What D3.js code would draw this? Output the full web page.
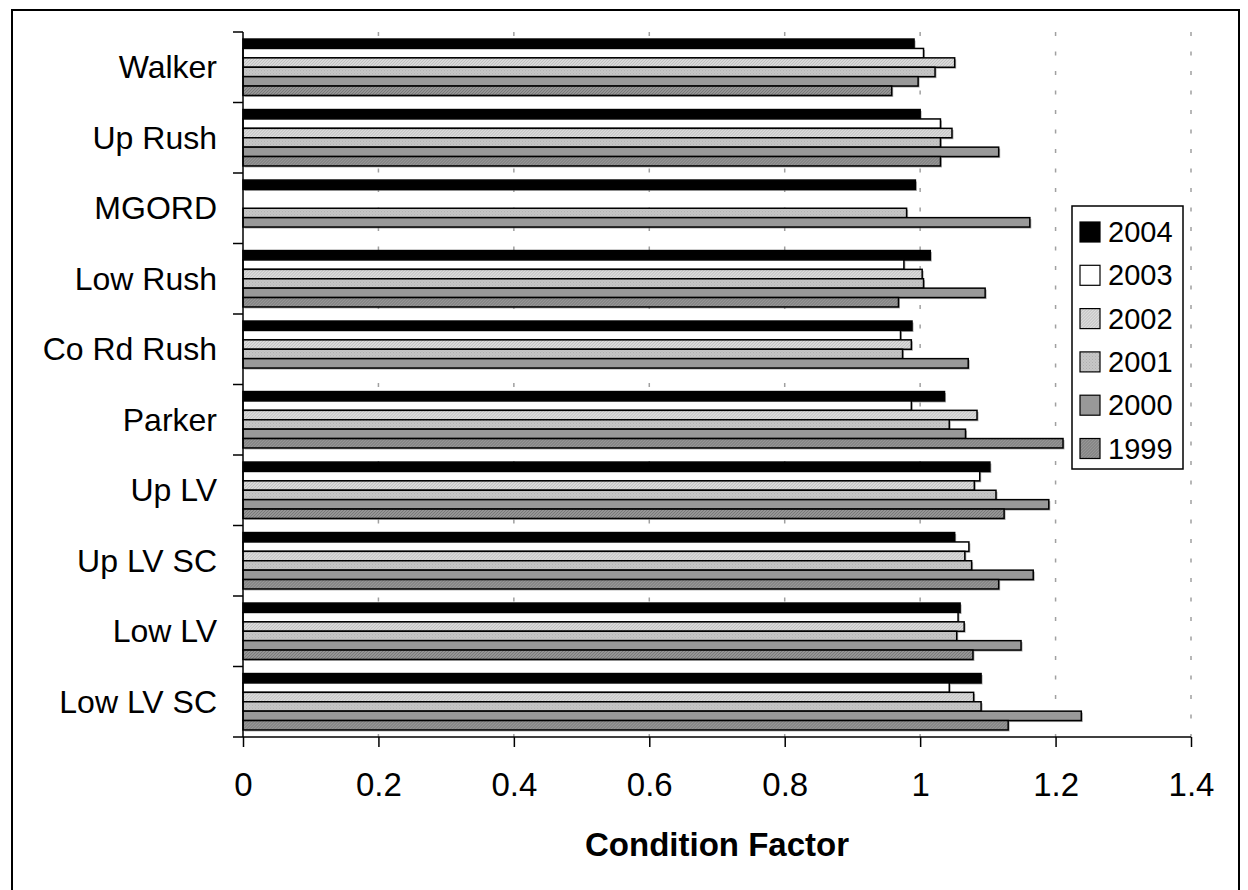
<!DOCTYPE html>
<html>
<head>
<meta charset="utf-8">
<script src="https://cdn.jsdelivr.net/npm/d3@7"></script>
<style>
  body { margin: 0; background: #fff; }
  svg text { font-family: Arial, "Liberation Sans", sans-serif; fill: #000; }
</style>
</head>
<body>
<svg id="chart" width="1248" height="890"></svg>
<script>
// sites, top to bottom
const sites = ['Walker', 'Up Rush', 'MGORD', 'Low Rush', 'Co Rd Rush', 'Parker', 'Up LV', 'Up LV SC', 'Low LV', 'Low LV SC']
const years = ['2004', '2003', '2002', '2001', '2000', '1999']

// condition factor per year, in site order (null = no sample)
const cf2004 = [0.991, 1.000, 0.993, 1.015, 0.988, 1.036, 1.103, 1.051, 1.059, 1.090]
const cf2003 = [1.005, 1.030, null, 0.976, 0.971, 0.987, 1.088, 1.072, 1.056, 1.043]
const cf2002 = [1.051, 1.047, null, 1.003, 0.987, 1.084, 1.080, 1.066, 1.065, 1.079]
const cf2001 = [1.022, 1.030, 0.980, 1.005, 0.974, 1.043, 1.112, 1.076, 1.054, 1.090]
const cf2000 = [0.997, 1.116, 1.162, 1.096, 1.071, 1.067, 1.190, 1.167, 1.149, 1.238]
const cf1999 = [0.958, 1.030, null, 0.968, null, 1.211, 1.124, 1.116, 1.078, 1.130]

const xTicks = [0, 0.2, 0.4, 0.6, 0.8, 1, 1.2, 1.4]

const seriesByYear = {
  '2004': cf2004, '2003': cf2003, '2002': cf2002,
  '2001': cf2001, '2000': cf2000, '1999': cf1999
}

const $svg = d3.select('#chart')
const MARGIN = { top: 32, right: 57, bottom: 153, left: 243 }
const width = 1248, height = 890
const boundedWidth = width - MARGIN.left - MARGIN.right
const boundedHeight = height - MARGIN.top - MARGIN.bottom

// fine patterns for the textured series
const $defs = $svg.append('defs')
function addPattern(id, bg, fg, d, size) {
  const p = $defs.append('pattern')
    .attr('id', id)
    .attr('patternUnits', 'userSpaceOnUse')
    .attr('width', size)
    .attr('height', size)
  p.append('rect').attr('width', size).attr('height', size).attr('fill', bg)
  p.append('path').attr('d', d).attr('stroke', fg).attr('stroke-width', 0.8).attr('fill', 'none')
}
addPattern('hatchLight', '#dcdcdc', '#b4b4b4', 'M-1,1 l2,-2 M0,3 l3,-3 M2,4 l2,-2', 3)
addPattern('dotGrey', '#c8c8c8', '#a4a4a4', 'M0,0.5 h1 M1.5,2 h1', 3)
addPattern('hatchDark', '#969696', '#6e6e6e', 'M-1,1 l2,-2 M0,3 l3,-3 M2,4 l2,-2', 3)

const fills = {
  '2004': '#000000',
  '2003': '#ffffff',
  '2002': 'url(#hatchLight)',
  '2001': 'url(#dotGrey)',
  '2000': '#999999',
  '1999': 'url(#hatchDark)'
}

// outer frame
$svg.append('rect')
  .attr('x', 12).attr('y', 10)
  .attr('width', 1227).attr('height', 885)
  .attr('fill', 'none')
  .attr('stroke', '#000')
  .attr('stroke-width', 2)

const $g = $svg.append('g').attr('transform', `translate(${MARGIN.left}, ${MARGIN.top})`)

const xScale = d3.scaleLinear().domain([0, 1.4]).range([0, boundedWidth])
const yScale = d3.scaleBand().domain(sites).range([0, boundedHeight]).paddingInner(0.2).paddingOuter(0.1)
const yInner = d3.scaleBand().domain(years).range([0, yScale.bandwidth()])

// dashed gridlines
$g.selectAll('.grid')
  .data(xTicks.slice(1))
  .enter()
  .append('line')
  .attr('class', 'grid')
  .attr('x1', d => xScale(d)).attr('x2', d => xScale(d))
  .attr('y1', 0).attr('y2', boundedHeight)
  .attr('stroke', '#a0a0a0')
  .attr('stroke-width', 1.5)
  .attr('stroke-dasharray', '4,15.5')

// bars
const barData = []
sites.forEach((s, i) => {
  years.forEach(y => {
    const v = seriesByYear[y][i]
    if (v != null) barData.push({ site: s, year: y, value: v })
  })
})

const $bars = $g.selectAll('.bar')
  .data(barData)
  .enter()
  .append('g')
  .attr('class', 'bar')
  .attr('transform', d => `translate(0, ${yScale(d.site) + yInner(d.year)})`)

// faint drop shadow like the original
$bars.append('rect')
  .attr('x', 1.5).attr('y', 1.5)
  .attr('width', d => xScale(d.value))
  .attr('height', yInner.bandwidth())
  .attr('fill', '#777')
  .attr('opacity', 0.6)

$bars.append('rect')
  .attr('x', 0).attr('y', 0)
  .attr('width', d => xScale(d.value))
  .attr('height', yInner.bandwidth())
  .attr('fill', d => fills[d.year])
  .attr('stroke', '#000')
  .attr('stroke-width', 1.5)

// x axis
const xAxis = d3.axisBottom(xScale)
  .tickValues(xTicks)
  .tickFormat(d => String(d))
  .tickSize(10)
  .tickPadding(26)
const $xAxis = $g.append('g')
  .attr('transform', `translate(0, ${boundedHeight})`)
  .call(xAxis)
$xAxis.select('.domain').attr('stroke', '#000').attr('stroke-width', 1.5).attr('d', `M0,0H${boundedWidth}`)
$xAxis.selectAll('.tick line').attr('stroke', '#000').attr('stroke-width', 1.5)
$xAxis.selectAll('.tick text')
  .attr('font-size', 33)
  .attr('font-family', 'Arial, "Liberation Sans", sans-serif')

// y axis: ticks at band boundaries, labels at band centres
const yBounds = d3.range(sites.length + 1).map(i => i * boundedHeight / sites.length)
$g.append('line')
  .attr('x1', 0).attr('x2', 0)
  .attr('y1', 0).attr('y2', boundedHeight)
  .attr('stroke', '#000').attr('stroke-width', 1.5)
$g.selectAll('.ytick')
  .data(yBounds)
  .enter()
  .append('line')
  .attr('class', 'ytick')
  .attr('x1', -10).attr('x2', 0)
  .attr('y1', d => d).attr('y2', d => d)
  .attr('stroke', '#000').attr('stroke-width', 1.5)
$g.selectAll('.ylabel')
  .data(sites)
  .enter()
  .append('text')
  .attr('class', 'ylabel')
  .attr('x', -26)
  .attr('y', d => yScale(d) + yScale.bandwidth() / 2)
  .attr('dy', '0.35em')
  .attr('text-anchor', 'end')
  .attr('font-size', 32)
  .text(d => d)

// axis title
$g.append('text')
  .attr('x', boundedWidth / 2)
  .attr('y', boundedHeight + 107)
  .attr('dy', '0.35em')
  .attr('text-anchor', 'middle')
  .attr('font-size', 33)
  .attr('font-weight', 'bold')
  .text('Condition Factor')

// legend
const $legend = $svg.append('g').attr('transform', 'translate(1072, 206)')
$legend.append('rect')
  .attr('width', 111).attr('height', 263)
  .attr('fill', '#fff')
  .attr('stroke', '#000')
  .attr('stroke-width', 1.5)
const $item = $legend.selectAll('.item')
  .data(years)
  .enter()
  .append('g')
  .attr('class', 'item')
  .attr('transform', (d, i) => `translate(8, ${26 + i * 43.3})`)
$item.append('rect')
  .attr('x', 0).attr('y', -10)
  .attr('width', 20).attr('height', 20)
  .attr('fill', d => fills[d])
  .attr('stroke', '#000')
  .attr('stroke-width', 1.2)
$item.append('text')
  .attr('x', 28)
  .attr('dy', '0.35em')
  .attr('font-size', 29)
  .text(d => d)
</script>
</body>
</html>
